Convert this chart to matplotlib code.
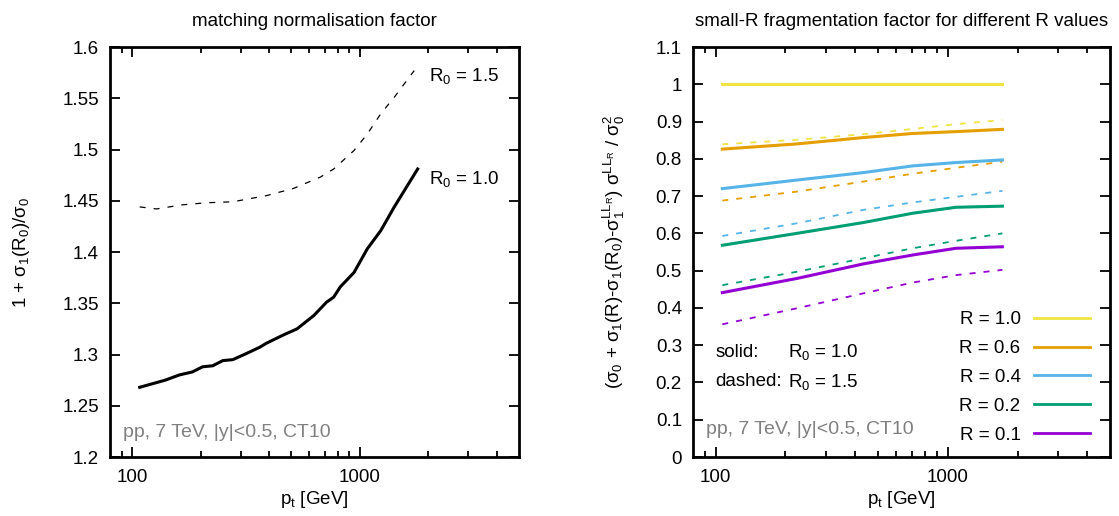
import matplotlib
matplotlib.use("Agg")
import matplotlib.pyplot as plt
from matplotlib.ticker import FixedLocator, FuncFormatter, NullFormatter
from matplotlib.lines import Line2D

plt.rcParams['font.family'] = ['Liberation Sans', 'DejaVu Sans']
plt.rcParams['mathtext.fontset'] = 'custom'
plt.rcParams['mathtext.rm'] = 'Liberation Sans'
plt.rcParams['mathtext.it'] = 'Liberation Sans'
plt.rcParams['mathtext.bf'] = 'Liberation Sans:bold'
plt.rcParams['lines.scale_dashes'] = False

# left panel: matching normalisation factor
pt_solid = [108, 140, 161, 184, 204, 226, 250, 277, 318, 363, 389, 461, 530,
            628, 714, 768, 821, 943, 1078, 1237, 1417, 1795]
norm_r10 = [1.268, 1.275, 1.280, 1.283, 1.288, 1.289, 1.294, 1.295, 1.301, 1.307,
            1.311, 1.319, 1.325, 1.338, 1.351, 1.356, 1.366, 1.380, 1.403, 1.421,
            1.444, 1.481]
pt_dashed = [108, 128, 166, 211, 277, 389, 511, 670, 768, 943, 1078, 1237, 1417, 1734]
norm_r15 = [1.444, 1.442, 1.446, 1.448, 1.449, 1.455, 1.462, 1.473, 1.481, 1.499,
            1.515, 1.535, 1.551, 1.577]

# right panel: small-R fragmentation factor
pt_r = [107, 224, 433, 707, 1086, 1720]
r_labels = ['R = 1.0', 'R = 0.6', 'R = 0.4', 'R = 0.2', 'R = 0.1']
r_colors = ['#f0e442', '#e69f00', '#56b4e9', '#009e73', '#9400d3']
frag_solid = [
    [1.000, 1.000, 1.000, 1.000, 1.000, 1.000],
    [0.826, 0.840, 0.857, 0.868, 0.873, 0.879],
    [0.720, 0.743, 0.763, 0.781, 0.790, 0.797],
    [0.568, 0.600, 0.629, 0.654, 0.670, 0.673],
    [0.441, 0.479, 0.518, 0.542, 0.560, 0.564],
]
frag_dashed = [
    [0.839, 0.851, 0.866, 0.880, 0.893, 0.904],
    [0.688, 0.712, 0.739, 0.760, 0.776, 0.792],
    [0.593, 0.627, 0.663, 0.683, 0.698, 0.714],
    [0.461, 0.497, 0.533, 0.560, 0.580, 0.600],
    [0.356, 0.399, 0.439, 0.468, 0.488, 0.502],
]

FS = 13.5
GRAY = '#808080'


def style_axes(ax):
    ax.set_xscale('log')
    ax.set_xlim(80, 5000)
    ax.xaxis.set_major_locator(FixedLocator([100, 1000]))
    ax.xaxis.set_minor_locator(FixedLocator([90, 200, 300, 400, 500, 600, 700, 800, 900,
                                             2000, 3000, 4000]))
    ax.xaxis.set_major_formatter(FuncFormatter(lambda v, p: '%g' % v))
    ax.xaxis.set_minor_formatter(NullFormatter())
    ax.tick_params(which='both', direction='in', top=True, right=True, width=1.3,
                   labelsize=FS)
    ax.tick_params(which='major', length=7)
    ax.tick_params(which='minor', length=4)
    ax.tick_params(axis='x', pad=9)
    ax.tick_params(axis='y', pad=8)
    for s in ax.spines.values():
        s.set_linewidth(2)
    ax.set_xlabel('p$_t$ [GeV]', fontsize=FS, labelpad=2)


fig = plt.figure(figsize=(11.19, 5.16), dpi=100)
W, H = 1119.0, 516.0
ax1 = fig.add_axes([110 / W, 59 / H, 409 / W, 410 / H])
ax2 = fig.add_axes([693 / W, 59 / H, 417 / W, 410 / H])

# left
ax1.plot(pt_solid, norm_r10, color='black', lw=2.2)
ax1.plot(pt_dashed, norm_r15, color='black', lw=0.9, dashes=(4.3, 5.8))
style_axes(ax1)
ax1.set_ylim(1.2, 1.6)
ax1.set_yticks([1.2, 1.25, 1.3, 1.35, 1.4, 1.45, 1.5, 1.55, 1.6])
ax1.yaxis.set_major_formatter(FuncFormatter(lambda v, p: '%g' % round(v, 2)))
ax1.set_ylabel('1 + σ$_1$(R$_0$)/σ$_0$', fontsize=FS)
ax1.yaxis.set_label_coords(-0.19, 0.5)
ax1.set_title('matching normalisation factor', fontsize=FS, pad=15)
ax1.text(0.781, 0.930, 'R$_0$ = 1.5', transform=ax1.transAxes, fontsize=FS, va='center')
ax1.text(0.781, 0.678, 'R$_0$ = 1.0', transform=ax1.transAxes, fontsize=FS, va='center')
ax1.text(0.031, 0.059, 'pp, 7 TeV, |y|<0.5, CT10', transform=ax1.transAxes,
         fontsize=14, color=GRAY, va='center')

# right
for col, ys in zip(r_colors, frag_dashed):
    ax2.plot(pt_r, ys, color=col, lw=1.3, dashes=(4.3, 5.8))
for col, ys in zip(r_colors, frag_solid):
    ax2.plot(pt_r, ys, color=col, lw=2.2)
style_axes(ax2)
ax2.set_ylim(0, 1.1)
ax2.set_yticks([0, 0.1, 0.2, 0.3, 0.4, 0.5, 0.6, 0.7, 0.8, 0.9, 1.0, 1.1])
ax2.yaxis.set_major_formatter(FuncFormatter(lambda v, p: '%g' % round(v, 2)))
ax2.set_ylabel('(σ$_0$ + σ$_1$(R)-σ$_1$(R$_0$)-σ$_1^{LL_R}$) σ$^{LL_R}$ / σ$_0^2$',
               fontsize=FS)
ax2.yaxis.set_label_coords(-0.158, 0.5)
ax2.set_title('small-R fragmentation factor for different R values', fontsize=FS, pad=15)

handles = [Line2D([], [], color=c, lw=2.0) for c in r_colors]
ax2.legend(handles, r_labels, loc='lower right', bbox_to_anchor=(0.952, 0.032),
           frameon=False, markerfirst=False, fontsize=FS, handlelength=3.0,
           handletextpad=0.7, labelspacing=0.63, borderpad=0, borderaxespad=0)

ax2.text(0.053, 0.256, 'solid:', transform=ax2.transAxes, fontsize=FS, va='center')
ax2.text(0.228, 0.256, 'R$_0$ = 1.0', transform=ax2.transAxes, fontsize=FS, va='center')
ax2.text(0.053, 0.184, 'dashed:', transform=ax2.transAxes, fontsize=FS, va='center')
ax2.text(0.228, 0.184, 'R$_0$ = 1.5', transform=ax2.transAxes, fontsize=FS, va='center')
ax2.text(0.031, 0.068, 'pp, 7 TeV, |y|<0.5, CT10', transform=ax2.transAxes,
         fontsize=14, color=GRAY, va='center')

fig.savefig('out.png', dpi=100)
